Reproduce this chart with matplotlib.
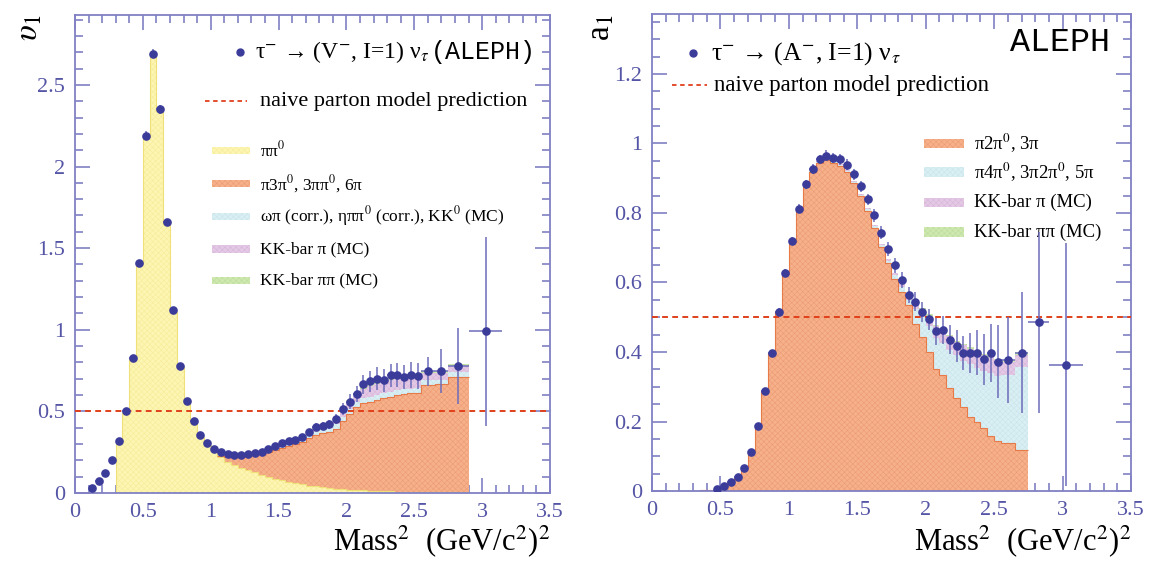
import numpy as np
import matplotlib
matplotlib.use("Agg")
import matplotlib.pyplot as plt
from matplotlib.patches import Rectangle
from matplotlib.ticker import MultipleLocator, FuncFormatter

plt.rcParams['font.family'] = ['Liberation Serif', 'DejaVu Serif']
plt.rcParams['mathtext.fontset'] = 'stix'
plt.rcParams['hatch.linewidth'] = 0.35

# ---------------- vector spectral function (left) ----------------
v_hist_edges = list(np.round(np.arange(0.10, 2.551, 0.05), 3)) + [2.65, 2.75, 2.90]
v_data_edges = v_hist_edges + [3.15]

v_data = [0.033, 0.075, 0.125, 0.20, 0.32, 0.50, 0.83, 1.41, 2.19, 2.69,
          2.35, 1.66, 1.12, 0.78, 0.565, 0.44, 0.353, 0.305, 0.269, 0.253,
          0.241, 0.233, 0.230, 0.240, 0.242, 0.254, 0.272, 0.288, 0.305, 0.320,
          0.327, 0.345, 0.372, 0.405, 0.412, 0.422, 0.452, 0.515, 0.560, 0.608,
          0.665, 0.685, 0.700, 0.690, 0.722, 0.722, 0.709, 0.722, 0.718,
          0.745, 0.745, 0.778, 0.990]
v_err = [0.004, 0.005, 0.006, 0.007, 0.008, 0.010, 0.014, 0.020, 0.025, 0.028,
         0.026, 0.020, 0.015, 0.012, 0.010, 0.008, 0.007, 0.006, 0.006, 0.006,
         0.006, 0.006, 0.006, 0.007, 0.008, 0.008, 0.009, 0.010, 0.011, 0.012,
         0.013, 0.015, 0.018, 0.022, 0.025, 0.028, 0.032, 0.038, 0.045, 0.050,
         0.060, 0.065, 0.070, 0.070, 0.070, 0.072, 0.075, 0.078, 0.080,
         0.090, 0.135, 0.230, 0.580]

# cumulative stack tops
v_pipi0 = [0, 0, 0, 0, 0.31, 0.49, 0.82, 1.40, 2.18, 2.68,
           2.34, 1.65, 1.11, 0.77, 0.555, 0.43, 0.343, 0.292, 0.255, 0.22,
           0.19, 0.172, 0.155, 0.14, 0.127, 0.113, 0.10, 0.088, 0.078, 0.068,
           0.06, 0.052, 0.045, 0.04, 0.035, 0.031, 0.027, 0.024, 0.021, 0.018,
           0.016, 0.014, 0.012, 0.011, 0.01, 0.009, 0.008, 0.007, 0.006,
           0.005, 0.004, 0.003]
# the other layers start at bin 1.00-1.05 (index 18)
v_first = 18
v_multi = [0.260, 0.228, 0.222, 0.220, 0.220, 0.226, 0.230, 0.240, 0.252, 0.264,
           0.277, 0.290, 0.300, 0.315, 0.335, 0.355, 0.368, 0.375, 0.395, 0.440,
           0.485, 0.525, 0.550, 0.560, 0.570, 0.580, 0.590, 0.600, 0.605, 0.610,
           0.615, 0.660, 0.665, 0.712]
v_omega = [0.264, 0.236, 0.230, 0.228, 0.228, 0.234, 0.238, 0.250, 0.263, 0.276,
           0.290, 0.304, 0.315, 0.331, 0.353, 0.375, 0.390, 0.399, 0.420, 0.467,
           0.515, 0.555, 0.580, 0.590, 0.600, 0.610, 0.620, 0.630, 0.635, 0.640,
           0.645, 0.690, 0.695, 0.742]
v_kkpi = [0.268, 0.240, 0.234, 0.232, 0.232, 0.238, 0.242, 0.254, 0.267, 0.280,
          0.298, 0.314, 0.327, 0.346, 0.371, 0.395, 0.415, 0.429, 0.455, 0.507,
          0.560, 0.605, 0.640, 0.655, 0.670, 0.680, 0.690, 0.700, 0.705, 0.710,
          0.715, 0.735, 0.735, 0.777]
v_kkpipi = [0.270, 0.242, 0.236, 0.234, 0.234, 0.240, 0.244, 0.256, 0.269, 0.282,
            0.300, 0.316, 0.329, 0.348, 0.373, 0.397, 0.417, 0.431, 0.457, 0.509,
            0.568, 0.613, 0.648, 0.663, 0.678, 0.688, 0.698, 0.708, 0.713, 0.718,
            0.723, 0.745, 0.745, 0.789]

# ---------------- axial-vector spectral function (right) ----------------
a_hist_edges = list(np.round(np.arange(0.30, 2.551, 0.05), 3)) + [2.65, 2.75]
a_data_edges = list(np.round(np.arange(0.45, 2.551, 0.05), 3)) + [2.65, 2.75, 2.90, 3.15]

a_data = [0.007, 0.014, 0.026, 0.040, 0.067, 0.113, 0.188, 0.288, 0.398, 0.516,
          0.627, 0.719, 0.812, 0.882, 0.926, 0.954, 0.965, 0.958, 0.954, 0.939,
          0.911, 0.877, 0.839, 0.793, 0.743, 0.697, 0.649, 0.607, 0.564, 0.545,
          0.516, 0.494, 0.459, 0.463, 0.435, 0.417, 0.398, 0.398, 0.398, 0.379,
          0.398, 0.372, 0.377, 0.398, 0.485, 0.363]
a_err = [0.002, 0.003, 0.003, 0.004, 0.005, 0.006, 0.007, 0.008, 0.009, 0.010,
         0.011, 0.012, 0.013, 0.013, 0.014, 0.014, 0.015, 0.015, 0.015, 0.015,
         0.016, 0.016, 0.017, 0.018, 0.019, 0.020, 0.021, 0.022, 0.024, 0.027,
         0.029, 0.031, 0.038, 0.040, 0.042, 0.046, 0.049, 0.058, 0.065, 0.073,
         0.083, 0.105, 0.125, 0.174, 0.260, 0.350]

a_3pi = [0.001, 0.002, 0.004, 0.007, 0.014, 0.025, 0.040, 0.066, 0.112, 0.187,
         0.287, 0.397, 0.514, 0.625, 0.716, 0.808, 0.876, 0.918, 0.944, 0.953,
         0.944, 0.936, 0.918, 0.886, 0.848, 0.806, 0.757, 0.703, 0.655, 0.610,
         0.572, 0.535, 0.481, 0.443, 0.400, 0.352, 0.333, 0.295, 0.267, 0.243,
         0.214, 0.200, 0.181, 0.157, 0.145, 0.137, 0.119]
# other layers start at bin 1.20-1.25 (index 18)
a_first = 18
a_5pi = [0.947, 0.956, 0.947, 0.939, 0.921, 0.889, 0.853, 0.811, 0.762, 0.708,
         0.663, 0.622, 0.587, 0.550, 0.525, 0.500, 0.475, 0.440, 0.425, 0.405,
         0.390, 0.375, 0.365, 0.355, 0.345, 0.340, 0.330, 0.335, 0.356]
a_kkpi = [0.949, 0.958, 0.949, 0.941, 0.923, 0.891, 0.855, 0.813, 0.766, 0.712,
          0.667, 0.626, 0.595, 0.562, 0.545, 0.525, 0.505, 0.475, 0.465, 0.445,
          0.430, 0.420, 0.410, 0.400, 0.390, 0.385, 0.376, 0.370, 0.390]
a_kkpipi = [0.949, 0.958, 0.949, 0.941, 0.923, 0.891, 0.855, 0.813, 0.766, 0.712,
            0.667, 0.626, 0.597, 0.564, 0.547, 0.527, 0.508, 0.478, 0.468, 0.448,
            0.433, 0.424, 0.415, 0.405, 0.395, 0.390, 0.381, 0.378, 0.400]

# colours
c_yellow = '#fdf5b2'
c_orange = '#f6b08a'
c_blue = '#d9eff3'
c_purple = '#e4c9e6'
c_green = '#cfe8b0'
c_point = '#3b3b9a'
c_ebar = '#6c6cba'
c_axis = '#8080c4'
c_label = '#5555a6'
c_red = '#e0401c'

layer_style = {
    'yellow': dict(face=c_yellow, hatch_col='#f6eb98', line='#efe07a'),
    'orange': dict(face=c_orange, hatch_col='#eb9a72', line='#e67a48'),
    'blue': dict(face=c_blue, hatch_col='#c8e4ea', line=None),
    'purple': dict(face=c_purple, hatch_col='#d6b4d8', line=None),
    'green': dict(face=c_green, hatch_col='#b9dc98', line=None),
}


def full_top(prev, tail, first):
    return np.concatenate([np.asarray(prev[:first], float), np.asarray(tail, float)])


def draw_layer(ax, edges, bottom, top, name, start=0):
    st = layer_style[name]
    ax.stairs(top, edges, baseline=bottom, fill=True, facecolor=st['face'],
              edgecolor=st['hatch_col'], hatch='xxxxxx', linewidth=0, zorder=2)
    if st['line']:
        ax.stairs(top[start:], edges[start:], baseline=None, fill=False,
                  edgecolor=st['line'], linewidth=0.8, zorder=2.1)


def swatch(ax, x0, x1, y, h, name):
    st = layer_style[name]
    ax.add_patch(Rectangle((x0, y - h / 2), x1 - x0, h, facecolor=st['face'],
                           edgecolor=st['hatch_col'], hatch='xxxxxx', linewidth=0,
                           clip_on=False, zorder=3))


def style_axes(ax, ymax, ymajor, yminor):
    ax.set_xlim(0, 3.5)
    ax.set_ylim(0, ymax)
    ax.xaxis.set_major_locator(MultipleLocator(0.5))
    ax.xaxis.set_minor_locator(MultipleLocator(0.1))
    ax.yaxis.set_major_locator(MultipleLocator(ymajor))
    ax.yaxis.set_minor_locator(MultipleLocator(yminor))
    fmt = FuncFormatter(lambda v, p: '%g' % round(v, 3))
    ax.xaxis.set_major_formatter(fmt)
    ax.yaxis.set_major_formatter(fmt)
    ax.tick_params(which='both', direction='in', top=True, right=True,
                   color=c_axis, labelcolor=c_label, labelsize=16, width=1.2)
    ax.tick_params(which='major', length=11, pad=7)
    ax.tick_params(which='minor', length=6)
    for sp in ax.spines.values():
        sp.set_color(c_axis)
        sp.set_linewidth(1.3)


fig = plt.figure(figsize=(11.53, 5.66), dpi=100)
ax1 = fig.add_axes([0.065, 0.129, 0.412, 0.845])
ax2 = fig.add_axes([0.5655, 0.1325, 0.4154, 0.843])

# ---- left panel ----
ve = np.array(v_hist_edges)
y_top = np.array(v_pipi0, float)
o_top = full_top(y_top, v_multi, v_first)
b_top = full_top(o_top, v_omega, v_first)
p_top = full_top(b_top, v_kkpi, v_first)
g_top = full_top(p_top, v_kkpipi, v_first)
draw_layer(ax1, ve, np.zeros_like(y_top), y_top, 'yellow')
draw_layer(ax1, ve, y_top, o_top, 'orange', start=v_first + 1)
draw_layer(ax1, ve, o_top, b_top, 'blue')
draw_layer(ax1, ve, b_top, p_top, 'purple')
draw_layer(ax1, ve, p_top, g_top, 'green')

vde = np.array(v_data_edges)
vx = (vde[:-1] + vde[1:]) / 2
vxerr = (vde[1:] - vde[:-1]) / 2
ax1.axhline(0.5, color=c_red, ls=(0, (3, 2.2)), lw=1.4, zorder=4)
ax1.errorbar(vx, v_data, yerr=v_err, xerr=vxerr, fmt='o', ms=5.2, color=c_point,
             ecolor=c_ebar, elinewidth=1.1, capsize=0, zorder=5)
style_axes(ax1, 2.93, 0.5, 0.1)

# legend (left)
ax1.plot([1.216], [2.70], 'o', ms=5, color=c_point, clip_on=False)
t_v = ax1.text(1.33, 2.70, r'τ$^{-}$ → (V$^{-}$, I=1) ν$_{\tau}$', fontsize=17,
               va='center', ha='left', color='black')
ax1.annotate('(ALEPH)', xy=(1.0, 0.5), xycoords=t_v, xytext=(1, 0),
             textcoords='offset points', family='Liberation Mono', fontsize=18,
             va='center', ha='left', color='black')
ax1.plot([0.96, 1.27], [2.40, 2.40], color=c_red, ls=(0, (2.5, 2)), lw=1.3)
ax1.text(1.36, 2.40, 'naive parton model prediction', fontsize=16, va='center')
v_leg = [('ππ$^{0}$', 'yellow', 2.10),
         ('π3π$^{0}$, 3ππ$^{0}$, 6π', 'orange', 1.894),
         ('ωπ (corr.), ηππ$^{0}$ (corr.), KK$^{0}$ (MC)', 'blue', 1.694),
         ('KK-bar π (MC)', 'purple', 1.495),
         ('KK-bar ππ (MC)', 'green', 1.30)]
for lab, name, yy in v_leg:
    swatch(ax1, 1.01, 1.29, yy, 0.045, name)
    ax1.text(1.36, yy, lab, fontsize=12.5, va='center')

# ---- right panel ----
ae = np.array(a_hist_edges)
o_top = np.array(a_3pi, float)
b_top = full_top(o_top, a_5pi, a_first)
p_top = full_top(b_top, a_kkpi, a_first)
g_top = full_top(p_top, a_kkpipi, a_first)
draw_layer(ax2, ae, np.zeros_like(o_top), o_top, 'orange')
draw_layer(ax2, ae, o_top, b_top, 'blue')
draw_layer(ax2, ae, b_top, p_top, 'purple')
draw_layer(ax2, ae, p_top, g_top, 'green')

ade = np.array(a_data_edges)
ax_ = (ade[:-1] + ade[1:]) / 2
axerr = (ade[1:] - ade[:-1]) / 2
ax2.axhline(0.5, color=c_red, ls=(0, (3, 2.2)), lw=1.4, zorder=4)
ax2.errorbar(ax_, a_data, yerr=a_err, xerr=axerr, fmt='o', ms=5.2, color=c_point,
             ecolor=c_ebar, elinewidth=1.1, capsize=0, zorder=5)
style_axes(ax2, 1.373, 0.2, 0.05)

ax2.text(3.35, 1.29, 'ALEPH', family='Liberation Mono', fontsize=24,
         ha='right', va='center')
ax2.plot([0.30], [1.26], 'o', ms=5, color=c_point)
ax2.text(0.43, 1.26, r'τ$^{-}$ → (A$^{-}$, I=1) ν$_{\tau}$', fontsize=18.5,
         va='center', ha='left')
ax2.plot([0.147, 0.40], [1.168, 1.168], color=c_red, ls=(0, (2.5, 2)), lw=1.3)
ax2.text(0.454, 1.168, 'naive parton model prediction', fontsize=16.5, va='center')
a_leg = [('π2π$^{0}$, 3π', 'orange', 1.0),
         ('π4π$^{0}$, 3π2π$^{0}$, 5π', 'blue', 0.918),
         ('KK-bar π (MC)', 'purple', 0.83),
         ('KK-bar ππ (MC)', 'green', 0.745)]
for lab, name, yy in a_leg:
    swatch(ax2, 1.99, 2.28, yy, 0.028, name)
    ax2.text(2.35, yy, lab, fontsize=13.5, va='center')

# axis titles (ROOT style)
fig.text(0.012, 0.975, r'$\upsilon_1$', fontsize=24, rotation=90, ha='left', va='top')
fig.text(0.508, 0.975, r'a$_1$', fontsize=24, rotation=90, ha='left', va='top')
xlab = r'Mass$^2$  (GeV/c$^2$)$^2$'
fig.text(0.477, 0.012, xlab, fontsize=22, ha='right', va='bottom')
fig.text(0.981, 0.012, xlab, fontsize=22, ha='right', va='bottom')

fig.savefig('out.png', dpi=100)
